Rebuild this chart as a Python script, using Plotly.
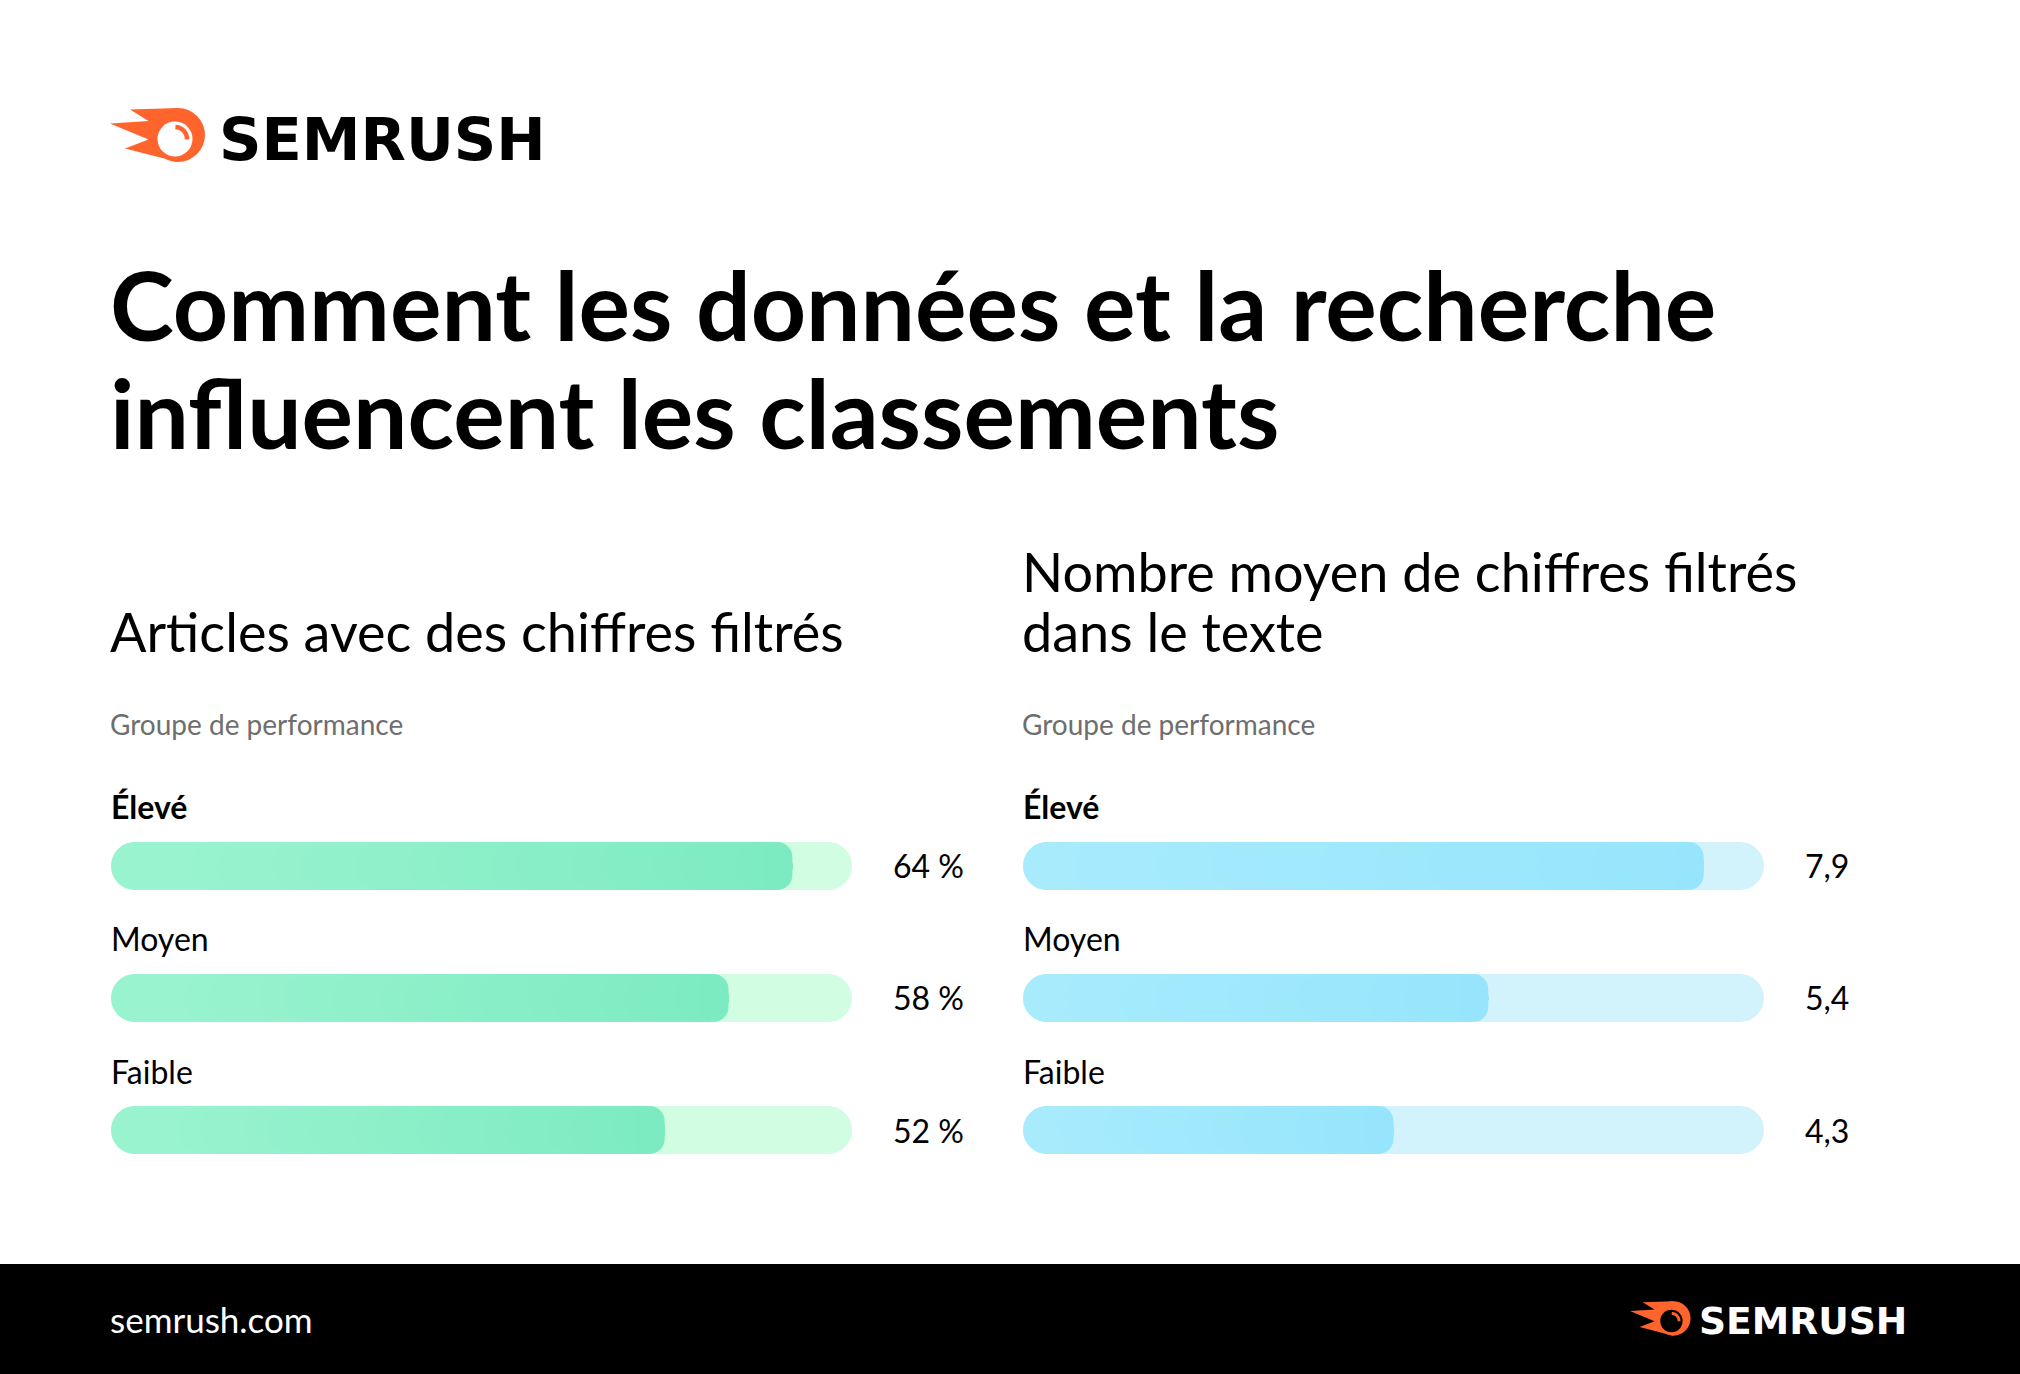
import math
import plotly.graph_objects as go

W, H = 2020, 1374

# ---------------- data ----------------
categories = ["Élevé", "Moyen", "Faible"]
pct_values = [64, 58, 52]          # Articles avec des chiffres filtrés (%)
avg_values = [7.9, 5.4, 4.3]       # Nombre moyen de chiffres filtrés

title_lines = ["Comment les données et la recherche", "influencent les classements"]
left_title_lines = ["Articles avec des chiffres filtrés"]
right_title_lines = ["Nombre moyen de chiffres filtrés", "dans le texte"]
group_label = "Groupe de performance"
footer_text = "semrush.com"
brand = "SEMRUSH"

# ---------------- style ----------------
FONT = "Lato"
ORANGE = "#FF642D"
TRACK_L = 69.6
TRACK_R = 8.6
TRACK_PX = 741
BAR_W = 48 / 132
CAP_PX = 25
N_SEG = 24

GREEN_L, GREEN_R, GREEN_TRACK = (154, 243, 207), (125, 235, 194), "#D1FDE3"
BLUE_L, BLUE_R, BLUE_TRACK = (167, 235, 253), (151, 229, 252), "#D3F3FC"


def lerp(c0, c1, t):
    return "rgb(%d,%d,%d)" % tuple(round(a + (b - a) * t) for a, b in zip(c0, c1))


fig = go.Figure()


def bar(x, base, color, xa, ya):
    fig.add_trace(go.Bar(
        orientation="h", y=categories, x=x, base=base, width=BAR_W,
        marker=dict(color=color, cornerradius="50%", line=dict(width=0)),
        xaxis=xa, yaxis=ya, hoverinfo="skip", showlegend=False,
    ))


def add_chart(values, xa, ya, track_max, c_left, c_right, c_track):
    n = len(values)
    r = CAP_PX * track_max / TRACK_PX          # cap radius in data units
    # track (pill): two halves, each rounded at its far end
    bar([-0.6 * track_max] * n, [0.6 * track_max] * n, c_track, xa, ya)
    bar([0.6 * track_max] * n, [0.4 * track_max] * n, c_track, xa, ya)
    # value bar: left cap then gradient segments, each rounded at the right end
    half = [v / 2 for v in values]
    bar([-h for h in half], half, lerp(c_left, c_right, 0), xa, ya)
    for k in range(N_SEG):
        t = k / (N_SEG - 1)
        starts = [r + (v - 2.2 * r) * t for v in values]
        lengths = [v - s for v, s in zip(values, starts)]
        bar(lengths, starts, lerp(c_left, c_right, t), xa, ya)


add_chart(pct_values, "x", "y", TRACK_L, GREEN_L, GREEN_R, GREEN_TRACK)
add_chart(avg_values, "x2", "y2", TRACK_R, BLUE_L, BLUE_R, BLUE_TRACK)

ydom = [1 - 1196 / H, 1 - 800 / H]
yax = dict(domain=ydom, type="category", categoryorder="array",
           categoryarray=categories, range=[2.5, -0.5], visible=False, fixedrange=True)

fig.update_layout(
    width=W, height=H, margin=dict(l=0, r=0, t=0, b=0),
    paper_bgcolor="white", plot_bgcolor="rgba(0,0,0,0)",
    barmode="overlay", showlegend=False,
    xaxis=dict(domain=[111 / W, 852 / W], range=[0, TRACK_L], visible=False, fixedrange=True, anchor="y"),
    yaxis=dict(yax, anchor="x"),
    xaxis2=dict(domain=[1023 / W, 1764 / W], range=[0, TRACK_R], visible=False, fixedrange=True, anchor="y2"),
    yaxis2=dict(yax, anchor="x2"),
)


def ann(text, xp, yp, size, color="#000000", weight=400, xanchor="left", family=FONT):
    fig.add_annotation(text=text, x=xp / W, y=1 - yp / H, xref="paper", yref="paper",
                       xanchor=xanchor, yanchor="middle", showarrow=False,
                       font=dict(family=family, size=size, color=color, weight=weight))


# titles
ann(title_lines[0], 108, 304, 96.5, weight=700)
ann(title_lines[1], 108, 412, 96.5, weight=700)
ann(left_title_lines[0], 108, 631, 54)
ann(right_title_lines[0], 1020, 571, 54)
ann(right_title_lines[1], 1020, 631, 54)
ann(group_label, 108, 724, 28, color="#6E6E6E")
ann(group_label, 1020, 724, 28, color="#6E6E6E")

# category labels and values
for xa, ya, values, fmt, tmax in [
    ("x", "y", pct_values, lambda v: f"{v:g} %", TRACK_L),
    ("x2", "y2", avg_values, lambda v: f"{v:g}".replace(".", ","), TRACK_R),
]:
    for i, (c, v) in enumerate(zip(categories, values)):
        fig.add_annotation(text=c, x=0, y=c, xref=xa, yref=ya, xanchor="left", yanchor="middle",
                           yshift=59, xshift=-2, showarrow=False,
                           font=dict(family=FONT, size=32, color="#000", weight=700 if i == 0 else 400))
        fig.add_annotation(text=fmt(v), x=tmax, y=c, xref=xa, yref=ya, xanchor="left", yanchor="middle",
                           xshift=39, showarrow=False,
                           font=dict(family=FONT, size=32, color="#000"))

# footer band
fig.add_shape(type="rect", xref="paper", yref="paper", x0=0, x1=1, y0=0, y1=1 - 1264 / H,
              fillcolor="#000000", line=dict(width=0), layer="below")
ann(footer_text, 108, 1319, 35, color="#FFFFFF")


# logo (decorative)
def add_logo(ox, oy, s, inner, text_color):
    X = lambda x: (ox + (x - 110) * s) / W
    Y = lambda y: 1 - (oy + (y - 139) * s) / H
    tail = [(130, 109.5), (178, 108), (178, 162), (125, 148.5), (148.5, 139.5),
            (110, 123.5), (148.5, 121)]
    path = "M " + " L ".join(f"{X(a):.5f},{Y(b):.5f}" for a, b in tail) + " Z"
    fig.add_shape(type="path", path=path, xref="paper", yref="paper",
                  fillcolor=ORANGE, line=dict(width=0))
    fig.add_shape(type="circle", xref="paper", yref="paper", x0=X(151), x1=X(205), y0=Y(162), y1=Y(108),
                  fillcolor=ORANGE, line=dict(width=0))
    fig.add_shape(type="circle", xref="paper", yref="paper", x0=X(157.5), x1=X(192.5), y0=Y(156.5), y1=Y(121.5),
                  fillcolor=inner, line=dict(width=0))
    pts = []
    for j in range(13):
        a = math.radians(88 - j * 90 / 12)
        pts.append((175 + 12 * math.cos(a), 139 - 12 * math.sin(a)))
    arc = "M " + " L ".join(f"{X(a):.5f},{Y(b):.5f}" for a, b in pts)
    fig.add_shape(type="path", path=arc, xref="paper", yref="paper",
                  line=dict(color=ORANGE, width=4.5 * s))
    fig.add_annotation(text=brand, x=X(382), y=Y(139), xref="paper", yref="paper",
                       xanchor="center", yanchor="middle", showarrow=False,
                       font=dict(family="DejaVu Sans", size=59 * s, color=text_color, weight=700))


add_logo(110, 139, 1.0, "#FFFFFF", "#000000")
add_logo(1630, 1321, 0.6375, "#000000", "#FFFFFF")

fig.write_html("out.html", config={"displayModeBar": False, "staticPlot": True},
               post_script="document.body.style.margin='0';")
